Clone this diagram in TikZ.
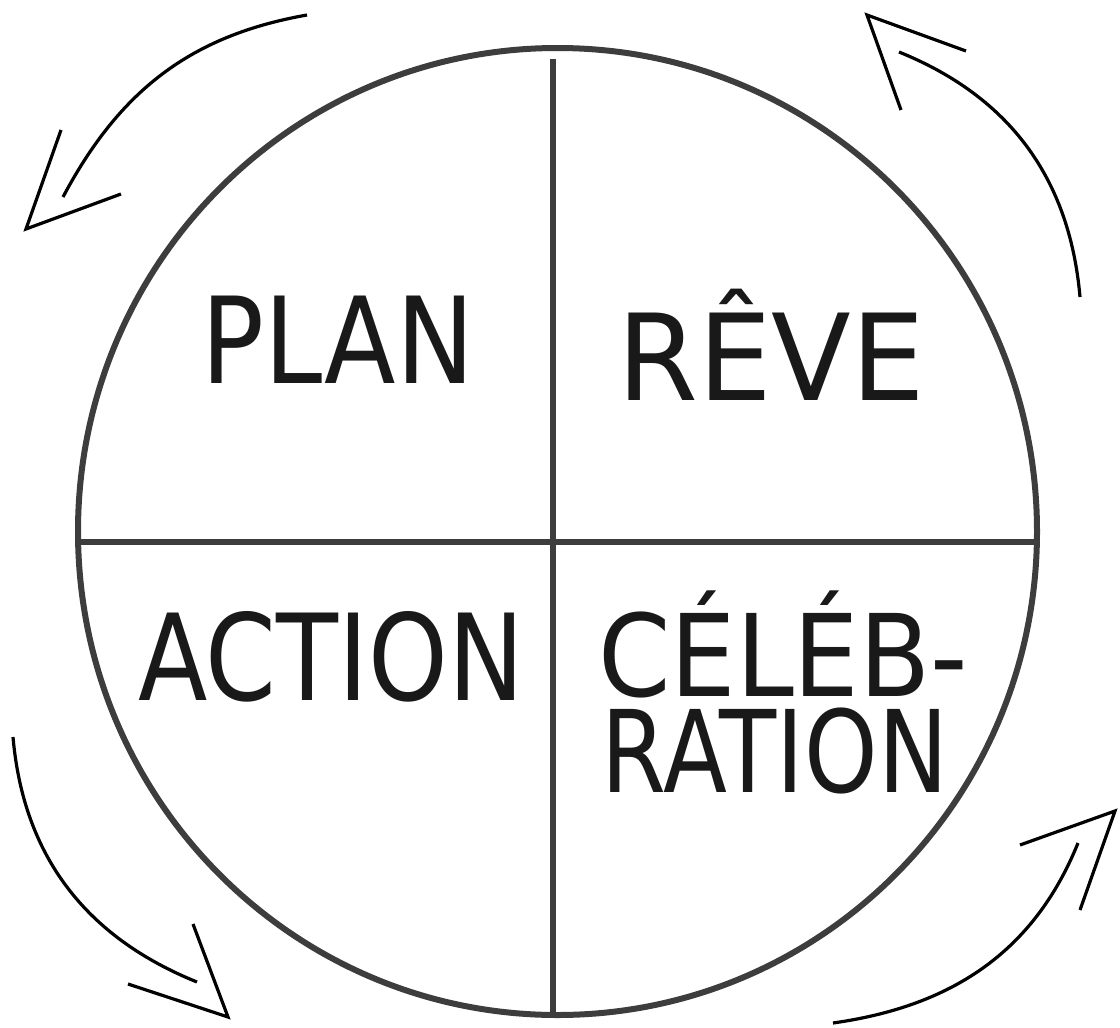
\documentclass[tikz,border=0pt]{standalone}
\usepackage{graphicx}
\usepackage{fontspec}
\newfontfamily\handfont{DejaVu Sans}
\begin{document}
\begin{tikzpicture}[x=1pt,y=1pt,
  rim/.style={draw=black!76,line width=6pt},
  divider/.style={draw=black!76,line width=5.5pt},
  cyc/.style={draw=black,line width=3.2pt},
  word/.style={inner sep=0pt,anchor=base,font=\handfont\fontsize{120}{130}\selectfont,text=black!90,transform shape},
  twoline/.style={inner sep=0pt,anchor=base,align=center,font=\handfont\fontsize{114}{96}\selectfont,text=black!90}]
\useasboundingbox (0,0) rectangle (1120,-1028);
% circle and cross
\draw[rim] (557.5,-531.5) ellipse [x radius=479.5,y radius=483.5];
\coordinate (vt) at (553,-59);
\coordinate (vb) at (553,-1018);
\coordinate (hl) at (78,-542);
\coordinate (hr) at (1034,-542);
\draw[divider] (vt) -- (vb);
\draw[divider] (hl) -- (hr);
% labels
\node[word,xscale=0.87] (plan) at (338,-383) {PLAN};
\node[word,xscale=0.97] (reve) at (771,-400) {RÊVE};
\node[word,xscale=0.845] (action) at (331,-700) {ACTION};
\node[twoline] (celeb) at (775,-792) {\hspace*{16pt}\scalebox{0.91}[1]{CÉLÉB-}\\\scalebox{0.82}[1]{RATION}};
% cycle arrows
\coordinate (a1s) at (307,-15);  \coordinate (a1e) at (63,-197);
\coordinate (a1t) at (26,-229);  \coordinate (a1b) at (61,-130); \coordinate (a1c) at (121,-194);
\draw[cyc] (a1s) to[out=190,in=62] (a1e);
\draw[cyc] (a1b) -- (a1t) -- (a1c);
\coordinate (a2s) at (1080,-297); \coordinate (a2e) at (899,-52);
\coordinate (a2t) at (867,-15);   \coordinate (a2b) at (901,-110); \coordinate (a2c) at (966,-51);
\draw[cyc] (a2s) to[out=95,in=-22] (a2e);
\draw[cyc] (a2b) -- (a2t) -- (a2c);
\coordinate (a3s) at (13,-737);  \coordinate (a3e) at (197,-982);
\coordinate (a3t) at (228,-1017); \coordinate (a3b) at (193,-924); \coordinate (a3c) at (128,-984);
\draw[cyc] (a3s) to[out=-85,in=158] (a3e);
\draw[cyc] (a3b) -- (a3t) -- (a3c);
\coordinate (a4s) at (833,-1023); \coordinate (a4e) at (1078,-843);
\coordinate (a4t) at (1115,-811); \coordinate (a4b) at (1020,-845); \coordinate (a4c) at (1080,-910);
\draw[cyc] (a4s) to[out=8,in=-112] (a4e);
\draw[cyc] (a4b) -- (a4t) -- (a4c);
\end{tikzpicture}
\end{document}
